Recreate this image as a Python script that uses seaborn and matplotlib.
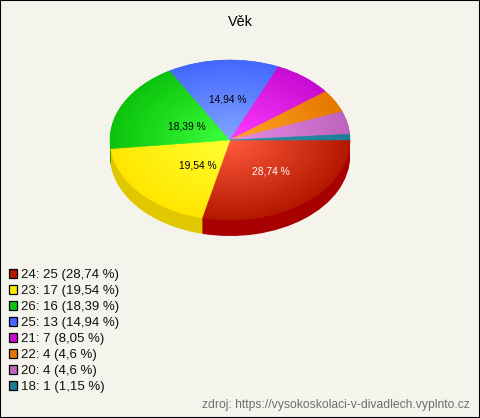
import matplotlib
matplotlib.use('Agg')
import matplotlib.pyplot as plt
from matplotlib.patches import Rectangle
import seaborn as sns

# Data
ages = ['24', '23', '26', '25', '21', '22', '20', '18']
counts = [25, 17, 16, 13, 7, 4, 4, 1]
pct_labels = ['28,74', '19,54', '18,39', '14,94', '8,05', '4,6', '4,6', '1,15']

# rim colour, centre colour, side colour for every slice
rim_colors = ['#B41800', '#FFE600', '#0CC40C', '#4468FF', '#C80CD2', '#E67800', '#BE64BE', '#1E7D96']
centre_colors = ['#FF5A3C', '#FFFF32', '#3CFF3C', '#82A5FF', '#FF3CFF', '#FFA528', '#E68CE6', '#2896AA']
side_colors = ['#A80000', '#E0C800', '#0A9A0A', '#3050C0', '#9A0AA0', '#B05A00', '#904C90', '#145A6E']

W, H = 480, 418
BG = '#F5F4EC'
PAD = 1.05
DEPTH = 0.2
N_LAYERS = 40

sns.set_theme(style='white')
plt.rcParams['font.family'] = ['Liberation Sans', 'DejaVu Sans']

fig = plt.figure(figsize=(W / 100, H / 100), dpi=100, facecolor=BG)
fig.add_artist(Rectangle((0, 0), 1, 1, transform=fig.transFigure, fill=False,
                         edgecolor='black', linewidth=1.5))

# axes laid out so that one data unit is 120 px across and 80 px down
cx, cy, rx, ry = 230, 140, 120, 80
left = (cx - PAD * rx) / W
bottom = 1 - (cy + (PAD + DEPTH) * ry) / H
ax = fig.add_axes([left, bottom, 2 * PAD * rx / W, (2 * PAD + DEPTH) * ry / H])


def pct_text(pct):
    return f'{pct:.2f} %'.replace('.', ',') if pct >= 10 else ''


# the side of the pie, stacked from the bottom up
for i in range(17):
    offset = -DEPTH * (1 - i / 16)
    ax.pie(counts, colors=side_colors, startangle=0, counterclock=False,
           center=(0, offset), radius=1, wedgeprops={'linewidth': 0})

# the top face, drawn as shrinking pies to get the radial shading
ramps = [sns.blend_palette([r, c], N_LAYERS) for r, c in zip(rim_colors, centre_colors)]
for i in range(N_LAYERS):
    radius = 1 - i / N_LAYERS
    layer = [ramp[i] for ramp in ramps]
    slices, _ = ax.pie(counts, colors=layer, startangle=0, counterclock=False, radius=radius)
    for s in slices:
        s.set_edgecolor(s.get_facecolor())
        s.set_linewidth(0.4)

wedges, _, autotexts = ax.pie(counts, colors=['none'] * len(counts), startangle=0,
                              counterclock=False, radius=1, autopct=pct_text,
                              pctdistance=0.48, wedgeprops={'linewidth': 0},
                              textprops={'fontsize': 7.4, 'color': 'black'})
autotexts[0].set_color('white')

# small nudges in pixels, the labels are not quite on the mid-angle line
nudges = [(5, -1), (11, 0), (8, -4), (1, 2)]
for t, (dx, dy) in zip(autotexts, nudges):
    x, y = t.get_position()
    t.set_position((x + dx / rx, y + dy / ry))

ax.set_aspect('auto')
ax.set_xlim(-PAD, PAD)
ax.set_ylim(-PAD - DEPTH, PAD)
ax.axis('off')

fig.text(240 / W, 1 - 21.5 / H, 'Věk', ha='center', va='center', fontsize=10.4, color='black')

# legend
handles = [Rectangle((0, 0), 1, 1, facecolor=c, edgecolor='black', linewidth=0.9) for c in rim_colors]
labels = [f'{a}: {n} ({p} %)' for a, n, p in zip(ages, counts, pct_labels)]
fig.legend(handles, labels, loc='upper left', bbox_to_anchor=(0, 1 - 260 / H),
           bbox_transform=fig.transFigure, frameon=False, fontsize=9.5,
           handlelength=0.62, handleheight=0.62, handletextpad=0.25,
           labelspacing=0.305, borderaxespad=0, borderpad=0.7, labelcolor='#111111')

fig.text(470 / W, 1 - 405 / H, 'zdroj: https://vysokoskolaci-v-divadlech.vyplnto.cz',
         ha='right', va='center', fontsize=8.7, color='#6E6E6E')

fig.savefig('out.png', dpi=100, facecolor=BG)
